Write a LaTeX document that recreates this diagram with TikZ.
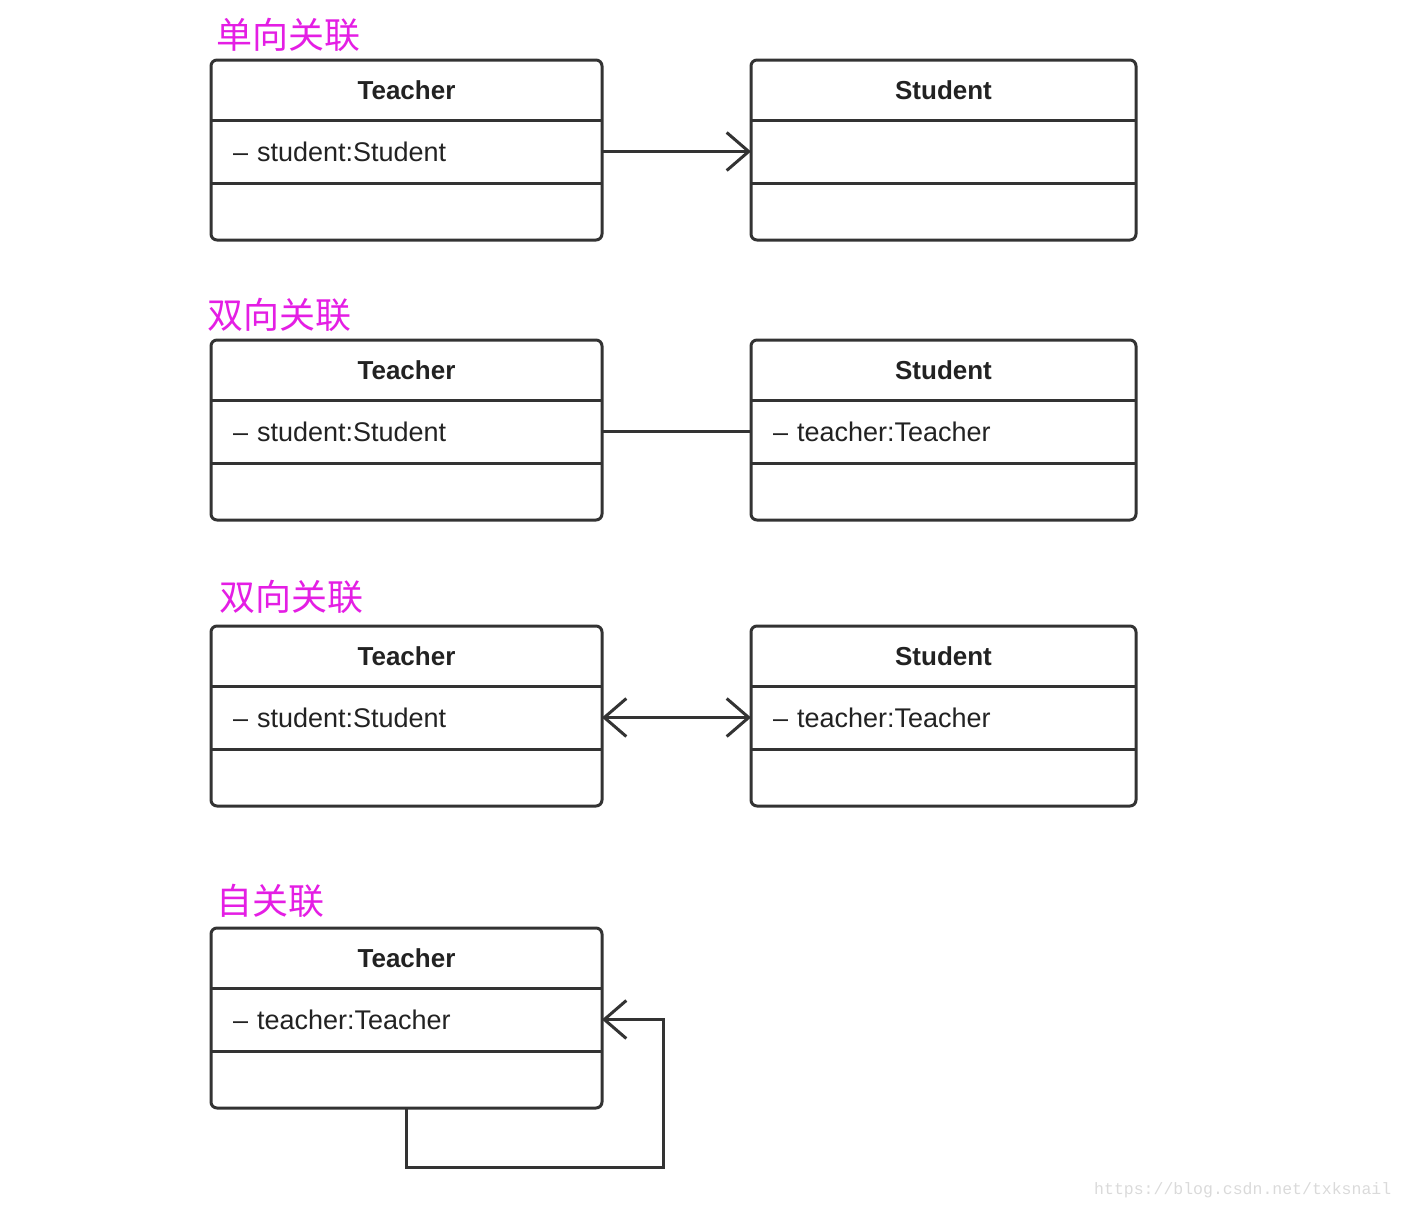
\documentclass[tikz,border=0pt]{standalone}
\usepackage{fontspec}
\setmainfont{Liberation Sans}
\newfontfamily\cjk{Noto Sans CJK SC}
\newfontfamily\webmono{Liberation Mono}
\usetikzlibrary{arrows.meta}
\definecolor{umlline}{HTML}{333333}
\definecolor{umltext}{HTML}{222222}
\definecolor{tagpink}{HTML}{E41EE4}
\definecolor{marktext}{HTML}{DADADA}

\tikzset{
  compartment/.style={draw=none, inner sep=0pt, outer sep=0pt, text=umltext},
  classtitle/.style={compartment, font=\fontsize{26}{30}\selectfont\bfseries, minimum height=60pt},
  classattr/.style={compartment, font=\fontsize{27}{30}\selectfont, align=left, inner xsep=22pt, minimum height=63pt},
  classops/.style={compartment, minimum height=57pt},
  classframe/.style={draw=umlline, line width=3pt, rounded corners=6pt},
  classrule/.style={draw=umlline, line width=3pt},
  assoc/.style={draw=umlline, line width=3pt},
  navi/.style={-{Straight Barb[length=22pt,width=38pt]}},
  bothnavi/.style={{Straight Barb[length=22pt,width=38pt]}-{Straight Barb[length=22pt,width=38pt]}},
  tag/.style={font=\cjk\fontsize{36}{40}\selectfont, text=tagpink, inner sep=0pt, anchor=west},
  watermark/.style={font=\webmono\fontsize{16.5}{18}\selectfont, text=marktext, inner sep=0pt, anchor=west},
}

% class box: name, centre x, top y, width, title, attribute
\newcommand{\classbox}[6]{%
  \pgfmathsetmacro{\attrwidth}{#4-44}
  \node[classtitle, minimum width=#4pt] (#1) at (#2,#3+30) {#5};
  \node[classattr, text width=\attrwidth pt] (#1-a) at (#2,#3+91.5) {#6};
  \node[classops, minimum width=#4pt] (#1-o) at (#2,#3+151.5) {};
  \draw[classframe] (#1.north west) rectangle (#1-o.south east);
  \draw[classrule] (#1-a.north west) -- (#1-a.north east);
  \draw[classrule] (#1-a.south west) -- (#1-a.south east);
}

\begin{document}
\begin{tikzpicture}[x=1pt,y=-1pt]
	\useasboundingbox (0,0) rectangle (1406,1210);

	% one-way association
	\node[tag] (tag1) at (216,35) {单向关联};
	\classbox{t1}{406.5}{60}{391}{Teacher}{– student:Student}
	\classbox{s1}{943.5}{60}{385}{Student}{}
	\draw[assoc, navi] (t1-a.east) -- (s1-a.west);

	% two-way association, plain line
	\node[tag] (tag2) at (207,315) {双向关联};
	\classbox{t2}{406.5}{340}{391}{Teacher}{– student:Student}
	\classbox{s2}{943.5}{340}{385}{Student}{– teacher:Teacher}
	\draw[assoc] (t2-a.east) -- (s2-a.west);

	% two-way association, both arrows
	\node[tag] (tag3) at (219,597) {双向关联};
	\classbox{t3}{406.5}{626}{391}{Teacher}{– student:Student}
	\classbox{s3}{943.5}{626}{385}{Student}{– teacher:Teacher}
	\draw[assoc, bothnavi] (t3-a.east) -- (s3-a.west);

	% self association
	\node[tag] (tag4) at (216,901) {自关联};
	\classbox{t4}{406.5}{928}{391}{Teacher}{– teacher:Teacher}
	\coordinate (loopcorner) at (663,1167);
	\draw[assoc, navi] (t4-o.south) |- (loopcorner) |- (t4-a.east);

	\node[watermark] (url) at (1094,1190) {https://blog.csdn.net/txksnail};
\end{tikzpicture}
\end{document}
